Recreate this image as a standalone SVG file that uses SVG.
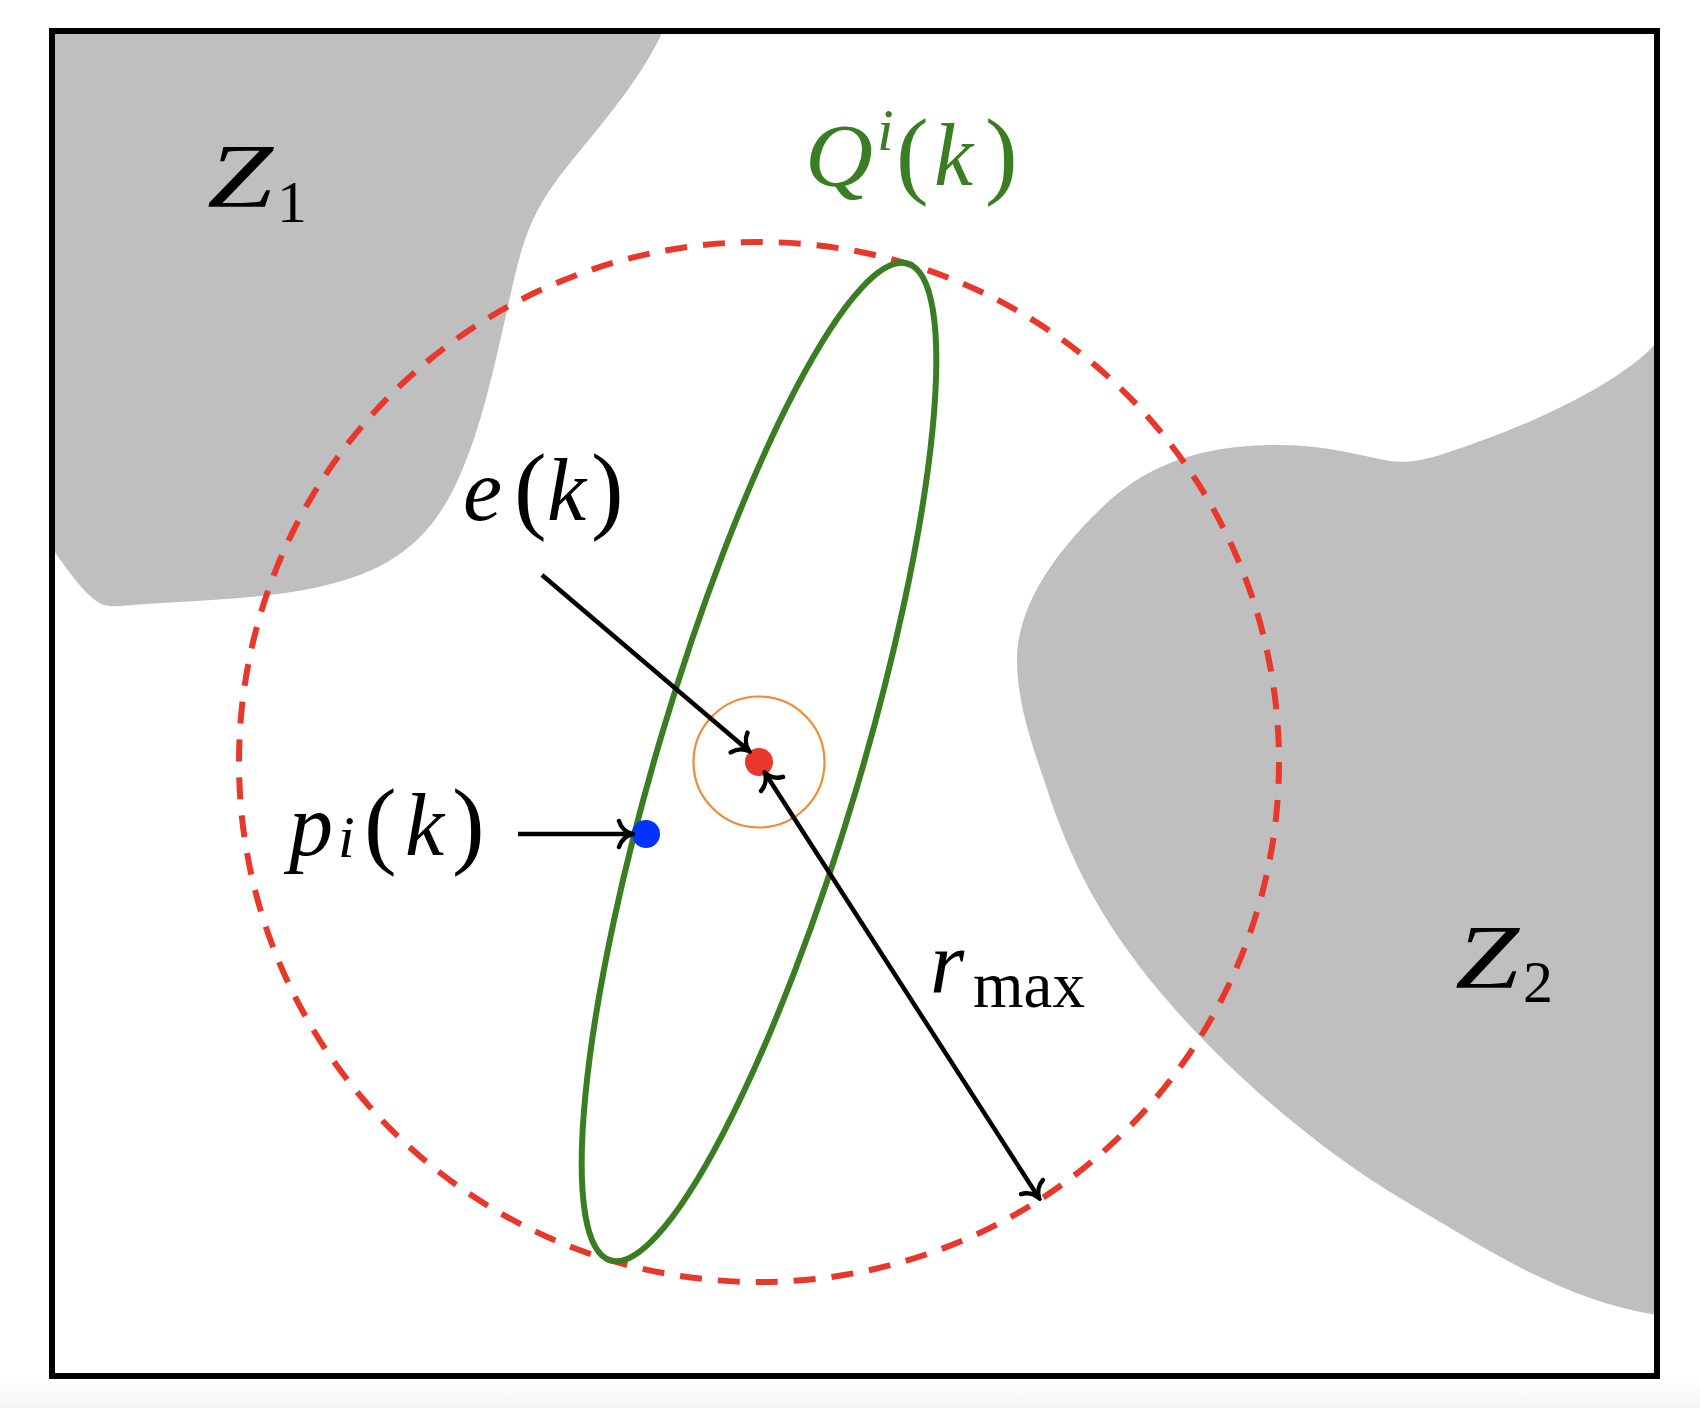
<svg xmlns="http://www.w3.org/2000/svg" width="1700" height="1408" viewBox="0 0 1700 1408">
<defs>
<style>
.zone{fill:#BFBFBF;stroke:none}
.m{font-family:"Liberation Serif","Times New Roman",serif;fill:#000}
.it{font-style:italic}
.g{fill:#3A7D22}
.conn{stroke:#000;stroke-width:4.5;fill:none}
</style>
<marker id="tip" viewBox="-16 -16 19 32" refX="0" refY="0" markerWidth="19" markerHeight="32" markerUnits="userSpaceOnUse" orient="auto-start-reverse">
<path d="M -13,-13 C -11,-6 -5,-1.5 0,0 C -5,1.5 -11,6 -13,13" fill="none" stroke="#000" stroke-width="4.5" stroke-linecap="round"/>
</marker>
<linearGradient id="strip" x1="0" y1="0" x2="0" y2="1"><stop offset="0" stop-color="#fdfdfd"/><stop offset="1" stop-color="#f4f4f4"/></linearGradient>
</defs>
<rect x="0" y="0" width="1700" height="1408" fill="#fff"/>
<rect x="0" y="1383" width="1700" height="25" fill="url(#strip)"/>

<g id="zone-z1">
<path class="zone" d="M 52,31 L 663,31 C 640,80 605,120 570,163 C 540,200 527,225 515,275 C 500,340 485,420 460,475 C 430,545 385,575 304,590 C 250,600 180,601 120,606 C 100,608 90,603 52,548 Z"/>
<text class="m it" x="207" y="207" font-size="92" textLength="66" lengthAdjust="spacingAndGlyphs">Z</text>
<text class="m" x="277" y="222" font-size="60">1</text>
</g>

<g id="zone-z2">
<path class="zone" d="M 1657,342 C 1620,385 1520,430 1440,455 C 1410,464 1395,463 1375,458 C 1340,450 1310,444 1270,445 C 1200,446 1150,465 1110,500 C 1050,555 1017,610 1017,660 C 1017,700 1030,740 1046,786 C 1070,860 1100,920 1160,992 C 1230,1075 1320,1150 1400,1198 C 1480,1245 1560,1300 1657,1315 Z"/>
<text class="m it" x="1455" y="988" font-size="92" textLength="64" lengthAdjust="spacingAndGlyphs">Z</text>
<text class="m" x="1523" y="1002" font-size="60">2</text>
</g>

<g id="frame">
<rect x="52" y="31" width="1605" height="1345" fill="none" stroke="#000" stroke-width="6"/>
</g>

<g id="rmax-circle">
<circle cx="759" cy="762" r="520" fill="none" stroke="#E8382B" stroke-width="6" stroke-dasharray="22 16"/>
</g>

<g id="ellipse-Q">
<ellipse cx="759" cy="762" rx="101" ry="520" transform="rotate(16.6 759 762)" fill="none" stroke="#3A7D22" stroke-width="6"/>
<text class="m g">
<tspan class="it" x="805" y="185" font-size="88" textLength="68" lengthAdjust="spacingAndGlyphs">Q</tspan><tspan class="it" x="877" y="150" font-size="60">i</tspan><tspan x="896" y="186" font-size="98">(</tspan><tspan class="it" x="934" y="185" font-size="88">k</tspan><tspan x="985" y="186" font-size="98">)</tspan>
</text>
</g>

<g id="e-point">
<circle cx="759" cy="762" r="65.5" fill="none" stroke="#F18B35" stroke-width="2.2"/>
<circle cx="759" cy="762" r="14" fill="#E8382B"/>
<text class="m">
<tspan class="it" x="463" y="520" font-size="88">e</tspan><tspan x="514" y="521" font-size="98">(</tspan><tspan class="it" x="547" y="520" font-size="88">k</tspan><tspan x="591" y="521" font-size="98">)</tspan>
</text>
</g>

<g id="p-point">
<circle cx="646" cy="834" r="14" fill="#0433FF"/>
<text class="m">
<tspan class="it" x="289" y="855" font-size="88">p</tspan><tspan class="it" x="338" y="857" font-size="60">i</tspan><tspan x="364" y="856" font-size="98">(</tspan><tspan class="it" x="405" y="855" font-size="88">k</tspan><tspan x="452" y="856" font-size="98">)</tspan>
</text>
</g>

<g id="rmax-label">
<text class="m it" x="930" y="992" font-size="88">r</text>
<text class="m" x="973" y="1007" font-size="66" textLength="112" lengthAdjust="spacingAndGlyphs">max</text>
</g>

<g id="connectors">
<path class="conn" d="M 542,575 L 749,751" marker-end="url(#tip)"/>
<path class="conn" d="M 518,834 L 632,834" marker-end="url(#tip)"/>
<path class="conn" d="M 765,773 L 1039,1198" marker-start="url(#tip)" marker-end="url(#tip)"/>
</g>
</svg>
